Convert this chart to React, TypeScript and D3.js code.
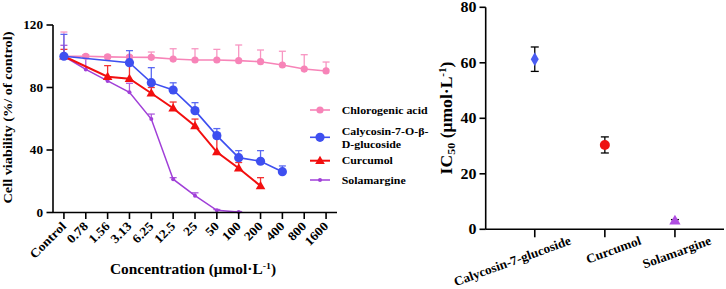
import React from "react";
import * as d3 from "d3";

// ---------- Data ----------
const concentrations = ["Control", "0.78", "1.56", "3.13", "6.25", "12.5", "25", "50", "100", "200", "400", "800", "1600"];
const yTicksLeft = [0, 40, 80, 120];

const chlorogenic = [100, 100, 99.6, 99.4, 99.3, 98.2, 97.6, 97.6, 97.2, 96.5, 94.4, 91.8, 90.6];
const chlorogenicErr = [15.5, 1, 1, 1, 3.4, 6.6, 7.2, 6.8, 10, 7.5, 8.8, 9.2, 5.7];
const calycosin = [100, null, null, 95.9, 83.1, 78.4, 65.2, 49.2, 35.1, 32.8, 26.1, null, null];
const calycosinErr = [14, null, null, 7.7, 9.6, 4.6, 5.1, 4.5, 4.5, 6.8, 3.7, null, null];
const curcumol = [100, null, 86.9, 85.6, 76.3, 66.7, 55.4, 38.7, 28.3, 17, null, null, null];
const curcumolErr = [4.4, null, 7.1, 9, 3.7, 4, 4.4, 9, 3.7, 5.3, null, null, null];
const solamargine = [100, 91.6, 84.2, 76.9, 59.8, 21.3, 10.8, 1.4, 0.3, null, null, null, null];
const solamargineErr = [7, 8, 1.5, 5.8, 3.2, 1, 1.8, 0.5, 0.3, null, null, null, null];

const icCompounds = ["Calycosin-7-glucoside", "Curcumol", "Solamargine"];
const icValues = [61.3, 30.4, 2.9];
const icErr = [4.4, 2.9, 0.6];
const yTicksRight = [0, 20, 40, 60, 80];

// ---------- Styles ----------
const FONT = "Liberation Serif, Times New Roman, serif";
const PINK = "#f784b8";
const BLUE = "#3e4ff0";
const RED = "#f20f0f";
const PURPLE = "#a03fd8";

type TP = { x: number; y: number; rot?: number; size: number; sx?: number; anchor?: string; children: React.ReactNode };
function T({ x, y, rot = 0, size, sx = 1.1, anchor = "start", children }: TP) {
  return (
    <text
      transform={`translate(${x},${y}) rotate(${rot}) scale(${sx},1)`}
      textAnchor={anchor}
      fill="#000"
      style={{ fontFamily: FONT, fontWeight: 700, fontSize: `${size}px` }}
    >
      {children}
    </text>
  );
}

export default function App() {
  // Left chart scales
  const xL = d3.scalePoint<string>().domain(concentrations).range([53, 337]).padding(0.5);
  const yL = d3.scaleLinear().domain([0, 120]).range([212.5, 25]);
  // Right chart scales
  const xR = d3.scalePoint<string>().domain(icCompounds).range([485.7, 724]).padding(0.7);
  const yR = d3.scaleLinear().domain([0, 80]).range([229.3, 7.3]);

  const series = [
    { name: "Solamargine", vals: solamargine, err: solamargineErr, color: PURPLE, marker: "dot", lw: 1.5 },
    { name: "Curcumol", vals: curcumol, err: curcumolErr, color: RED, marker: "tri", lw: 2 },
    { name: "Chlorogenic acid", vals: chlorogenic, err: chlorogenicErr, color: PINK, marker: "circleS", lw: 1.6 },
    { name: "Calycosin", vals: calycosin, err: calycosinErr, color: BLUE, marker: "circle", lw: 1.6 },
  ];

  const marker = (kind: string, x: number, y: number, color: string, key: string) => {
    if (kind === "circle") return <circle key={key} cx={x} cy={y} r={4.6} fill={color} />;
    if (kind === "circleS") return <circle key={key} cx={x} cy={y} r={3.6} fill={color} />;
    if (kind === "dot") return <circle key={key} cx={x} cy={y} r={2} fill={color} />;
    const p = d3.symbol(d3.symbolTriangle, 40)() as string;
    return <path key={key} d={p} transform={`translate(${x},${y + 0.5})`} fill={color} />;
  };

  const legendItems = [
    { color: PINK, marker: "circleS", lw: 1.6, lines: ["Chlorogenic acid"], y: 110 },
    { color: BLUE, marker: "circle", lw: 1.6, lines: ["Calycosin-7-O-β-", "D-glucoside"], y: 137.3 },
    { color: RED, marker: "tri", lw: 2, lines: ["Curcumol"], y: 160.7 },
    { color: PURPLE, marker: "dot", lw: 1.5, lines: ["Solamargine"], y: 180 },
  ];
  const legendTextY = [113.5, 134.5, 164.3, 183.5];

  return (
    <svg width={726} height={289} style={{ position: "absolute", left: 0, top: 0, background: "#fff" }}>
      {/* ---------------- LEFT CHART ---------------- */}
      <g>
        {series.map((s) => {
          const pts = s.vals
            .map((v, i) => (v == null ? null : ([xL(concentrations[i]) as number, yL(v)] as [number, number])))
            .filter((p) => p) as [number, number][];
          const line = d3.line()(pts) as string;
          return (
            <g key={s.name}>
              {s.vals.map((v, i) => {
                const e = s.err[i];
                if (v == null || e == null) return null;
                const x = xL(concentrations[i]) as number;
                return (
                  <g key={i} stroke={s.color} strokeWidth={1.3} opacity={0.85}>
                    <line x1={x} x2={x} y1={yL(v)} y2={yL(v + e)} />
                    <line x1={x - 3.5} x2={x + 3.5} y1={yL(v + e)} y2={yL(v + e)} />
                  </g>
                );
              })}
              <path d={line} fill="none" stroke={s.color} strokeWidth={s.lw} />
              {s.vals.map((v, i) =>
                v == null ? null : marker(s.marker, xL(concentrations[i]) as number, yL(v), s.color, s.name + i)
              )}
            </g>
          );
        })}

        {/* axes */}
        <line x1={53} x2={53} y1={yL(120)} y2={yL(0)} stroke="#000" strokeWidth={1.6} />
        <line x1={53} x2={337} y1={yL(0)} y2={yL(0)} stroke="#000" strokeWidth={1.6} />
        {yTicksLeft.map((t) => (
          <g key={t}>
            <line x1={46.5} x2={53} y1={yL(t)} y2={yL(t)} stroke="#000" strokeWidth={1.6} />
            <T x={43} y={yL(t) + 4.2} size={12} anchor="end">
              {t}
            </T>
          </g>
        ))}
        {concentrations.map((c) => {
          const x = xL(c) as number;
          return (
            <g key={c}>
              <line x1={x} x2={x} y1={yL(0)} y2={yL(0) + 6.5} stroke="#000" strokeWidth={1.6} />
              <T x={x + 3} y={227} rot={-45} size={12.5} anchor="end">
                {c}
              </T>
            </g>
          );
        })}
        <T x={12} y={117.5} rot={-90} size={13} anchor="middle">
          Cell viability (%/ of control)
        </T>
        <T x={193} y={274} size={14} anchor="middle">
          Concentration (μmol·L
          <tspan fontSize={9} dy={-5}>-1</tspan>
          <tspan dy={5}>)</tspan>
        </T>

        {/* legend */}
        {legendItems.map((l, k) => (
          <g key={k}>
            <line x1={310} x2={330} y1={l.y} y2={l.y} stroke={l.color} strokeWidth={l.lw} />
            {marker(l.marker, 320, l.y, l.color, "lg" + k)}
            {l.lines.map((ln, j) => (
              <T key={j} x={341.7} y={legendTextY[k] + j * 13.3} size={10.8}>
                {ln}
              </T>
            ))}
          </g>
        ))}
      </g>

      {/* ---------------- RIGHT CHART ---------------- */}
      <g>
        <line x1={485.7} x2={485.7} y1={yR(80)} y2={yR(0)} stroke="#000" strokeWidth={1.6} />
        <line x1={485.7} x2={724} y1={yR(0)} y2={yR(0)} stroke="#000" strokeWidth={1.6} />
        {yTicksRight.map((t) => (
          <g key={t}>
            <line x1={479.5} x2={485.7} y1={yR(t)} y2={yR(t)} stroke="#000" strokeWidth={1.6} />
            <T x={476.5} y={yR(t) + 5} size={14.5} anchor="end">
              {t}
            </T>
          </g>
        ))}
        {icCompounds.map((c, i) => {
          const x = xR(c) as number;
          const v = icValues[i];
          const e = icErr[i];
          let mk: React.ReactNode;
          if (i === 0)
            mk = <path d={d3.symbol(d3.symbolDiamond, 55)() as string} transform={`translate(${x},${yR(v)})`} fill="#4a5cf2" />;
          else if (i === 1) mk = <circle cx={x} cy={yR(v)} r={5} fill="#ee1111" />;
          else
            mk = <path d={d3.symbol(d3.symbolTriangle, 55)() as string} transform={`translate(${x},${yR(v)})`} fill="#b04ee2" />;
          return (
            <g key={c}>
              <line x1={x} x2={x} y1={yR(0)} y2={yR(0) + 8} stroke="#000" strokeWidth={1.6} />
              <g stroke="#000" strokeWidth={1.3}>
                <line x1={x} x2={x} y1={yR(v - e)} y2={yR(v + e)} />
                <line x1={x - 4} x2={x + 4} y1={yR(v + e)} y2={yR(v + e)} />
                <line x1={x - 4} x2={x + 4} y1={yR(v - e)} y2={yR(v - e)} />
              </g>
              {mk}
              <T x={x + 37} y={244} rot={-20} size={12.8} sx={1.04} anchor="end">
                {c}
              </T>
            </g>
          );
        })}
        <T x={452} y={118} rot={-90} size={16} anchor="middle">
          IC
          <tspan fontSize={11} dy={3}>50</tspan>
          <tspan dy={-3}> (μmol·L</tspan>
          <tspan fontSize={10} dy={-6}>-1</tspan>
          <tspan dy={6}>)</tspan>
        </T>
      </g>
    </svg>
  );
}
